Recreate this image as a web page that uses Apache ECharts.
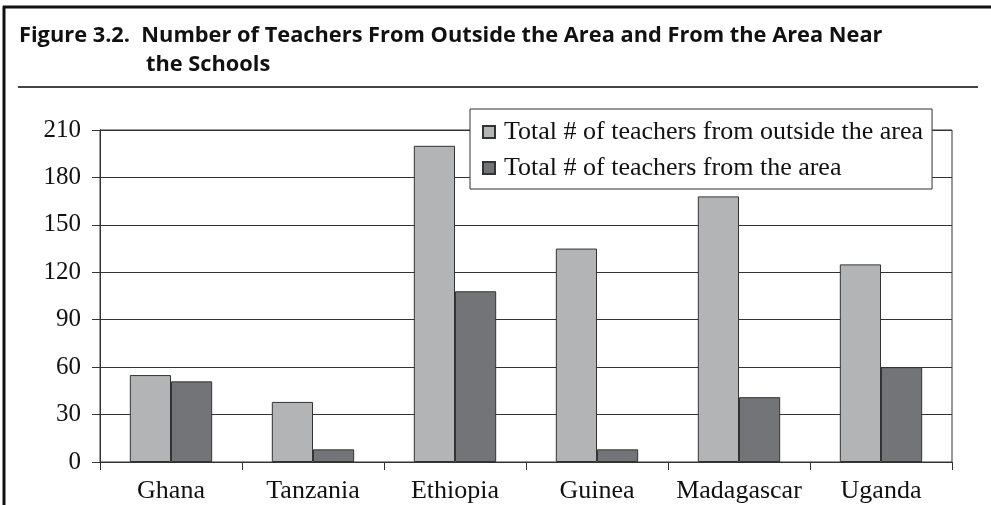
<!DOCTYPE html>
<html>
<head>
<meta charset="utf-8">
<script src="https://cdn.jsdelivr.net/npm/echarts@6/dist/echarts.min.js"></script>
<style>
    html, body { margin: 0; padding: 0; background: #ffffff; }
    #chart { width: 991px; height: 505px; }
</style>
</head>
<body>
<div id="chart"></div>
<script>
// countries along the x axis
const countries = ['Ghana', 'Tanzania', 'Ethiopia', 'Guinea', 'Madagascar', 'Uganda']
// teachers from outside the area
const outsideArea = [55, 38, 200, 135, 168, 125]
// teachers from the area near the schools
const fromArea = [51, 8, 108, 8, 41, 60]
const seriesNames = ['Total # of teachers from outside the area', 'Total # of teachers from the area']
const yTicks = { min: 0, max: 210, interval: 30 }

const serif = '"Liberation Serif", "DejaVu Serif", serif'
const titleFont = '"Open Sans", "Noto Sans", sans-serif'

function createOption() {
    const option = {
        animation: false,
        backgroundColor: '#ffffff',
        graphic: [
            // outer frame, top and left edges
            { type: 'line', shape: { x1: 3, y1: 7, x2: 991, y2: 7 }, style: { stroke: '#111', lineWidth: 3 } },
            { type: 'line', shape: { x1: 4, y1: 6, x2: 4, y2: 505 }, style: { stroke: '#111', lineWidth: 3 } },
            // line under the title
            { type: 'line', shape: { x1: 18, y1: 87, x2: 978, y2: 87 }, style: { stroke: '#444', lineWidth: 2 } },
            {
                type: 'text', left: 19, top: 25,
                style: {
                    text: 'Figure 3.2.  Number of Teachers From Outside the Area and From the Area Near',
                    font: 'bold 21.8px ' + titleFont, fill: '#111'
                }
            },
            {
                type: 'text', left: 146, top: 54,
                style: { text: 'the Schools', font: 'bold 21.8px ' + titleFont, fill: '#111' }
            }
        ],
        legend: {
            orient: 'vertical',
            left: 470,
            top: 109,
            padding: [10, 9, 8, 12],
            itemGap: 10,
            itemWidth: 12,
            itemHeight: 12,
            borderColor: '#333',
            borderWidth: 1,
            backgroundColor: '#ffffff',
            icon: 'rect',
            textStyle: { fontFamily: serif, fontSize: 26, color: '#111', lineHeight: 26, padding: [0, 0, 0, 4] },
            data: seriesNames
        },
        grid: {
            left: 100,
            right: 39,
            top: 130,
            bottom: 43,
            show: true,
            borderColor: '#333',
            borderWidth: 1
        },
        xAxis: {
            type: 'category',
            data: countries,
            axisLine: { lineStyle: { color: '#333', width: 1 } },
            axisTick: { show: true, length: 8, interval: 0, lineStyle: { color: '#333' } },
            axisLabel: { fontFamily: serif, fontSize: 26, color: '#111', margin: 16, interval: 0 }
        },
        yAxis: {
            type: 'value',
            min: yTicks.min,
            max: yTicks.max,
            interval: yTicks.interval,
            axisLine: { show: true, lineStyle: { color: '#333', width: 1 } },
            axisTick: { show: true, length: 8, lineStyle: { color: '#333' } },
            axisLabel: { fontFamily: serif, fontSize: 25, color: '#111', margin: 19 },
            splitLine: { show: true, lineStyle: { color: '#333', width: 1 } }
        },
        series: [
            {
                name: seriesNames[0],
                type: 'bar',
                data: outsideArea,
                barGap: '0%',
                barCategoryGap: '42%',
                itemStyle: { color: '#b3b4b6', borderColor: '#333', borderWidth: 1 }
            },
            {
                name: seriesNames[1],
                type: 'bar',
                data: fromArea,
                itemStyle: { color: '#737477', borderColor: '#333', borderWidth: 1 }
            }
        ]
    }
    return option
}

const chart = echarts.init(document.getElementById('chart'))
chart.setOption(createOption())
</script>
</body>
</html>
